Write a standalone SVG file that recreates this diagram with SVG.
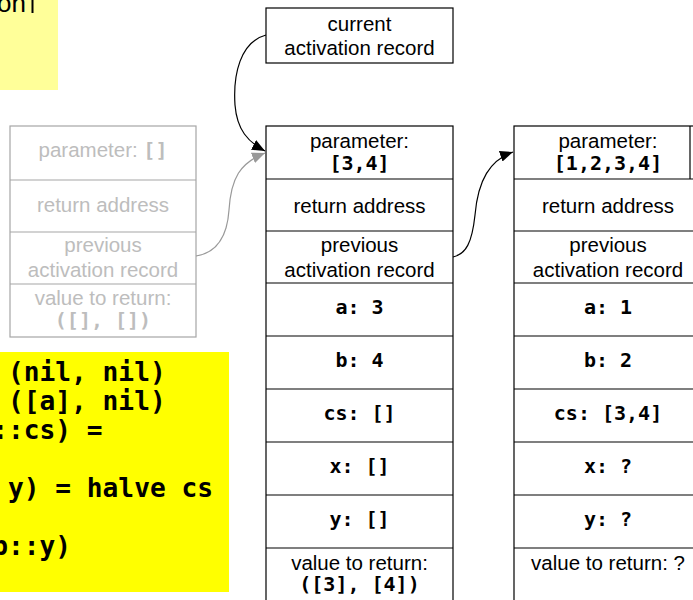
<svg xmlns="http://www.w3.org/2000/svg" width="693" height="600" viewBox="0 0 693 600">
<defs>
<marker id="ah" markerUnits="userSpaceOnUse" markerWidth="14" markerHeight="12" refX="13" refY="5.5" orient="auto"><path d="M0,0 L13,5.5 L0,11 z" fill="#000"/></marker>
<marker id="ahg" markerUnits="userSpaceOnUse" markerWidth="14" markerHeight="12" refX="13" refY="5.5" orient="auto"><path d="M0,0 L13,5.5 L0,11 z" fill="#999"/></marker>
</defs>
<style>
.s{font-family:"Liberation Sans",Arial,sans-serif;font-size:20.5px;text-anchor:middle;fill:#000}
.m{font-family:"DejaVu Sans Mono",monospace;font-weight:bold;font-size:20px;text-anchor:middle;fill:#000}
.c{font-family:"DejaVu Sans Mono",monospace;font-weight:bold;font-size:26.2px;fill:#000}
.g{fill:#bdbdbd}
.box{fill:#fff;stroke:#000;stroke-width:1.2}
.gbox{fill:#fff;stroke:#a6a6a6;stroke-width:1.2}
.ln{stroke:#000;stroke-width:1.2}
.gln{stroke:#a6a6a6;stroke-width:1.2}
</style>
<g id="note-top">
<rect x="0" y="0" width="58" height="90" fill="#ffff99"/>
<text x="26" y="12" style="font-family:'Liberation Sans',Arial,sans-serif;font-size:26px;text-anchor:end">on</text>
<rect x="31.5" y="0" width="2" height="13" fill="#000"/>
</g>
<g id="code">
<rect x="0" y="352" width="229" height="240" fill="#ffff00"/>
<text class="c" x="8" y="381">(nil, nil)</text>
<text class="c" x="8" y="410">([a], nil)</text>
<text class="c" x="-7.8" y="439">::cs) =</text>
<text class="c" x="8" y="497">y) = halve cs</text>
<text class="c" x="-7.8" y="555">b::y)</text>
</g>
<g id="old-record">
<rect class="gbox" x="10" y="126" width="186" height="211"/>
<line class="gln" x1="10" y1="180" x2="196" y2="180"/>
<line class="gln" x1="10" y1="232" x2="196" y2="232"/>
<line class="gln" x1="10" y1="284" x2="196" y2="284"/>
<text class="s g" x="103" y="157"><tspan>parameter: </tspan><tspan style="font-family:'DejaVu Sans Mono',monospace;font-weight:bold;font-size:20px">[]</tspan></text>
<text class="s g" x="103" y="212">return address</text>
<text class="s g" x="103" y="252">previous</text>
<text class="s g" x="103" y="277">activation record</text>
<text class="s g" x="103" y="305">value to return:</text>
<text class="m g" x="103" y="327">([], [])</text>
</g>
<g id="current">
<rect class="box" x="266" y="8" width="187" height="55"/>
<text class="s" x="359.5" y="31">current</text>
<text class="s" x="359.5" y="55">activation record</text>
</g>
<g id="record-mid">
<rect class="box" x="266" y="126" width="187" height="480"/>
<line class="ln" x1="266" y1="179" x2="453" y2="179"/>
<line class="ln" x1="266" y1="231" x2="453" y2="231"/>
<line class="ln" x1="266" y1="283" x2="453" y2="283"/>
<line class="ln" x1="266" y1="336" x2="453" y2="336"/>
<line class="ln" x1="266" y1="389" x2="453" y2="389"/>
<line class="ln" x1="266" y1="442" x2="453" y2="442"/>
<line class="ln" x1="266" y1="495" x2="453" y2="495"/>
<line class="ln" x1="266" y1="548" x2="453" y2="548"/>
<text class="s" x="359.5" y="148">parameter:</text>
<text class="m" x="359.5" y="170">[3,4]</text>
<text class="s" x="359.5" y="213">return address</text>
<text class="s" x="359.5" y="252">previous</text>
<text class="s" x="359.5" y="277">activation record</text>
<text class="m" x="359.5" y="314">a: 3</text>
<text class="m" x="359.5" y="367">b: 4</text>
<text class="m" x="359.5" y="420">cs: []</text>
<text class="m" x="359.5" y="473">x: []</text>
<text class="m" x="359.5" y="526">y: []</text>
<text class="s" x="359.5" y="570">value to return:</text>
<text class="m" x="359.5" y="591">([3], [4])</text>
</g>
<g id="record-right">
<rect class="box" x="514" y="126" width="188" height="480"/>
<line class="ln" x1="690" y1="126" x2="690" y2="179"/>
<line class="ln" x1="514" y1="179" x2="702" y2="179"/>
<line class="ln" x1="514" y1="231" x2="702" y2="231"/>
<line class="ln" x1="514" y1="283" x2="702" y2="283"/>
<line class="ln" x1="514" y1="336" x2="702" y2="336"/>
<line class="ln" x1="514" y1="389" x2="702" y2="389"/>
<line class="ln" x1="514" y1="442" x2="702" y2="442"/>
<line class="ln" x1="514" y1="495" x2="702" y2="495"/>
<line class="ln" x1="514" y1="548" x2="702" y2="548"/>
<text class="s" x="608" y="148">parameter:</text>
<text class="m" x="608" y="170">[1,2,3,4]</text>
<text class="s" x="608" y="213">return address</text>
<text class="s" x="608" y="252">previous</text>
<text class="s" x="608" y="277">activation record</text>
<text class="m" x="608" y="314">a: 1</text>
<text class="m" x="608" y="367">b: 2</text>
<text class="m" x="608" y="420">cs: [3,4]</text>
<text class="m" x="608" y="473">x: ?</text>
<text class="m" x="608" y="526">y: ?</text>
<text class="s" x="608" y="570">value to return: ?</text>
</g>
<g id="connectors" fill="none">
<path d="M266,35 C240,42 233,75 235,105 C237,130 248,142 265,151" stroke="#000" stroke-width="1.2" marker-end="url(#ah)"/>
<path d="M196,256 C215,253 227,240 229,210 C231,178 240,163 265,153" stroke="#999" stroke-width="1.2" marker-end="url(#ahg)"/>
<path d="M453,257 C466,254 472,243 475,215 C478,180 490,160 513,152" stroke="#000" stroke-width="1.2" marker-end="url(#ah)"/>
</g>
</svg>
